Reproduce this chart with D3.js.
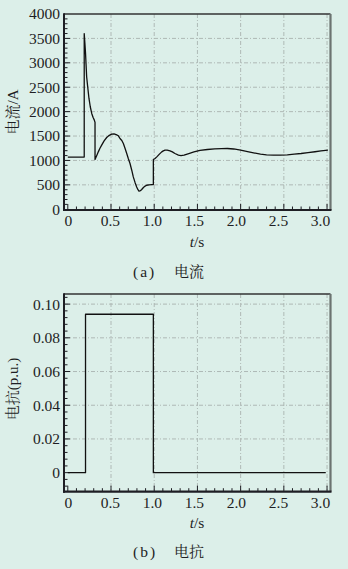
<!DOCTYPE html>
<html><head><meta charset="utf-8">
<script src="https://cdn.jsdelivr.net/npm/d3@7/dist/d3.min.js"></script>
<style>
html,body{margin:0;padding:0;background:#dcefe9;}
svg{display:block;}
</style></head>
<body>
<svg id="c" width="348" height="569"></svg>
<script>
// ---------- data ----------
const currentT = [0,0.19,0.19,0.197,0.205,0.218,0.232,0.245,0.26,0.277,0.293,0.307,0.315,0.315,0.335,0.353,0.372,0.392,0.42,0.45,0.48,0.508,0.535,0.56,0.585,0.604,0.625,0.643,0.662,0.682,0.70,0.72,0.74,0.758,0.778,0.797,0.812,0.824,0.84,0.855,0.875,0.895,0.913,0.94,0.971,0.99,0.99,1.01,1.03,1.06,1.087,1.105,1.125,1.15,1.183,1.21,1.24,1.28,1.31,1.345,1.40,1.46,1.53,1.615,1.70,1.78,1.846,1.92,2.0,2.08,2.15,2.23,2.30,2.38,2.46,2.54,2.62,2.70,2.78,2.86,2.93,3.01];
const currentA = [1070,1070,3600,3420,3200,2714,2480,2270,2100,1963,1880,1826,1780,1020,1100,1176,1250,1313,1400,1470,1515,1538,1545,1530,1505,1450,1410,1347,1250,1142,1040,937,800,663,550,458,400,369,380,404,445,475,492,500,506,506,1020,1040,1073,1130,1176,1195,1210,1210,1197,1175,1142,1110,1100,1108,1140,1176,1205,1224,1236,1243,1245,1235,1210,1180,1155,1128,1115,1108,1108,1115,1128,1142,1160,1178,1195,1210];
const reactT = [0,0.205,0.205,0.99,0.99,2.985];
const reactX = [0,0,0.094,0.094,0,0];
const xTicks = [0,0.5,1.0,1.5,2.0,2.5,3.0];
const xTickLabels = ["0","0.5","1.0","1.5","2.0","2.5","3.0"];
const yTicksA = [0,500,1000,1500,2000,2500,3000,3500,4000];
const yTicksA_labels = ["0","500","1000","1500","2000","2500","3000","3500","4000"];
const yTicksB = [0,0.02,0.04,0.06,0.08,0.10];
const yTicksB_labels = ["0","0.02","0.04","0.06","0.08","0.10"];

const svg = d3.select("#c");
const INK = "#1e1e24";
const SERIF = "Liberation Serif";
const CJK = "Noto Serif CJK SC";

const x = d3.scaleLinear().domain([-0.044, 3.04]).range([64, 330.5]);
const xLabel = d3.scaleLinear().domain([0, 3]).range([68.3, 320.5]);

function panel(opt){
  const y = d3.scaleLinear().domain(opt.yDomain).range([opt.bottom, opt.top]);
  const g = svg.append("g");
  const L = 64, R = 330.5;
  // grid
  g.selectAll("line.gx").data(xTicks.filter(d=>d>0)).join("line")
    .attr("x1",d=>x(d)).attr("x2",d=>x(d)).attr("y1",opt.top).attr("y2",opt.bottom)
    .attr("stroke","#a9b3b0").attr("stroke-width",0.9).attr("stroke-dasharray","4,2,1,2");
  g.selectAll("line.gy").data(opt.yTicks.filter(d=>d>0 && y(d)>opt.top+2)).join("line")
    .attr("x1",L).attr("x2",R).attr("y1",d=>y(d)).attr("y2",d=>y(d))
    .attr("stroke","#a9b3b0").attr("stroke-width",0.9).attr("stroke-dasharray","4,2,1,2");
  // minor ticks left axis
  const yMinor = d3.range(0, opt.yDomain[1]+1e-9, opt.yMinor).map(v=>+v.toFixed(6));
  g.selectAll("line.ym").data(yMinor.filter(v=>y(v)>opt.top+1 && y(v)<opt.bottom-1)).join("line")
    .attr("x1",L).attr("x2",d=> opt.yTicks.some(t=>Math.abs(t-d)<1e-9)?L+6:L+3.5)
    .attr("y1",d=>y(d)).attr("y2",d=>y(d)).attr("stroke",INK).attr("stroke-width",1);
  if(opt.yDomain[0]<0){
    const neg = d3.range(-opt.yMinor, opt.yDomain[0], -opt.yMinor);
    g.selectAll("line.yn").data(neg.filter(v=>y(v)<opt.bottom-1)).join("line")
      .attr("x1",L).attr("x2",L+3.5).attr("y1",d=>y(d)).attr("y2",d=>y(d))
      .attr("stroke",INK).attr("stroke-width",1);
  }
  // minor ticks bottom axis
  const xMinor = d3.range(0, 3.0001, 0.1).map(v=>+v.toFixed(2));
  g.selectAll("line.xm").data(xMinor).join("line")
    .attr("x1",d=>x(d)).attr("x2",d=>x(d)).attr("y1",opt.bottom)
    .attr("y2",d=> xTicks.some(t=>Math.abs(t-d)<1e-9)?opt.bottom-6:opt.bottom-3.5)
    .attr("stroke",INK).attr("stroke-width",1);
  // frame
  g.append("line").attr("x1",L).attr("x2",R).attr("y1",opt.top).attr("y2",opt.top)
    .attr("stroke","#333").attr("stroke-width",1.6);
  g.append("line").attr("x1",R).attr("x2",R).attr("y1",opt.top).attr("y2",opt.bottom)
    .attr("stroke","#6c7371").attr("stroke-width",2.2);
  g.append("line").attr("x1",L).attr("x2",L).attr("y1",opt.top-0.8).attr("y2",opt.bottom+1)
    .attr("stroke",INK).attr("stroke-width",2);
  g.append("line").attr("x1",L-1).attr("x2",R+1).attr("y1",opt.bottom).attr("y2",opt.bottom)
    .attr("stroke",INK).attr("stroke-width",2.2);
  // data line
  const line = d3.line().x(d=>x(d[0])).y(d=>y(d[1]));
  g.append("path").datum(d3.zip(opt.t, opt.v)).attr("d",line)
    .attr("fill","none").attr("stroke","#111").attr("stroke-width",1.3).attr("stroke-linejoin","round");
  // tick labels
  g.selectAll("text.yl").data(opt.yTicks).join("text")
    .attr("x",60).attr("y",d=>y(d)).attr("dy","0.35em").attr("text-anchor","end")
    .style("font-family",SERIF).attr("font-size",15.5).attr("fill",INK)
    .text((d,i)=>opt.yLabels[i]);
  g.selectAll("text.xl").data(xTicks).join("text")
    .attr("x",d=>xLabel(d)).attr("y",opt.bottom+16).attr("text-anchor","middle")
    .style("font-family",SERIF).attr("font-size",15.5).attr("fill",INK)
    .text((d,i)=>xTickLabels[i]);
  // x axis title
  const xt = g.append("text").attr("x",197).attr("y",opt.bottom+36.5).attr("text-anchor","middle")
    .style("font-family",SERIF).attr("font-size",15.5).attr("fill",INK);
  xt.append("tspan").attr("font-style","italic").text("t");
  xt.append("tspan").text("/s");
  // y axis title
  const yt = g.append("text").attr("transform",`translate(18,${opt.yTitleY}) rotate(-90)`)
    .attr("text-anchor","middle").attr("font-size",15).attr("fill",INK);
  opt.yTitle.forEach(p=>yt.append("tspan").style("font-family",p[1]?SERIF:CJK).text(p[0]));
  // caption
  svg.append("text").attr("x",133).attr("y",opt.capY).style("font-family",SERIF)
    .attr("font-size",15.5).attr("letter-spacing",2).attr("fill",INK).text(opt.capA);
  svg.append("text").attr("x",174).attr("y",opt.capY).style("font-family",CJK)
    .attr("font-size",15).attr("fill",INK).text(opt.capB);
}

panel({top:14,bottom:210,yDomain:[-15,4000],yTicks:yTicksA,yLabels:yTicksA_labels,yMinor:100,
  t:currentT,v:currentA,yTitle:[["电流",0],["/A",1]],yTitleY:112,capY:277,capA:"(a)",capB:"电流"});
panel({top:294,bottom:491.7,yDomain:[-0.0113,0.106],yTicks:yTicksB,yLabels:yTicksB_labels,yMinor:0.004,
  t:reactT,v:reactX,yTitle:[["电抗",0],["(p.u.)",1]],yTitleY:389,capY:557,capA:"(b)",capB:"电抗"});
</script>
</body></html>
